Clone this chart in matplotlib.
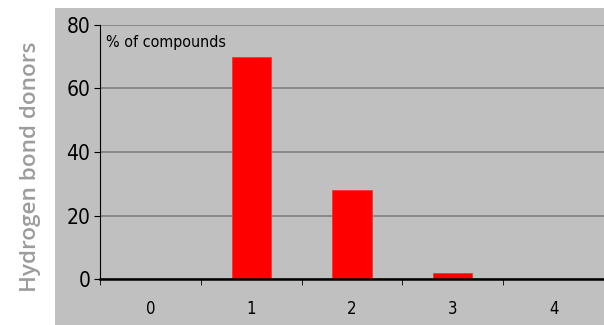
import matplotlib
matplotlib.use("Agg")
import matplotlib.pyplot as plt
from matplotlib.patches import Rectangle

# share of compounds by number of hydrogen bond donors
donors = ["0", "1", "2", "3", "4"]
pct = [0, 70, 28, 2, 0]
yticks = [0, 20, 40, 60, 80]

BG = "#c0c0c0"
FONT = dict(family="DejaVu Sans", stretch="condensed")

fig = plt.figure(figsize=(6.04, 3.25), dpi=100)
fig.patch.set_facecolor("white")
fig.patches.append(Rectangle((55 / 604, 0), 1, 1 - 8 / 325, transform=fig.transFigure,
                             facecolor=BG, edgecolor="none", zorder=-5))

ax = fig.add_axes([100 / 604, 46 / 325, 1 - 100 / 604, 254 / 325])
ax.set_zorder(2)
ax.set_facecolor(BG)
x = list(range(len(donors)))
ax.bar(x, pct, width=0.39, color="#ff0000", edgecolor="#ff3030", linewidth=0.6, zorder=3)

ax.set_xlim(-0.5, -0.5 + 504 / 102.5)
ax.set_ylim(0, 80)
ax.set_yticks(yticks)
ax.set_yticklabels([str(v) for v in yticks], fontsize=15, **FONT)
ax.set_xticks(x)
ax.set_xticklabels(donors, fontsize=12, **FONT)
ax.set_xticks([i - 0.5 for i in range(len(donors) + 1)], minor=True)
ax.tick_params(axis="x", which="major", length=0, pad=15)
ax.tick_params(axis="x", which="minor", length=4, direction="out", color="black")
ax.tick_params(axis="y", length=4, direction="out", pad=3)
ax.grid(axis="y", color="#808080", linewidth=1.2, zorder=1)
ax.set_axisbelow(True)

for side in ("top", "right"):
    ax.spines[side].set_visible(False)
ax.spines["left"].set_linewidth(0.8)
ax.spines["bottom"].set_linewidth(1.8)
ax.spines["bottom"].set_zorder(4)

ax.text(0.012, 0.93, "% of compounds", transform=ax.transAxes,
        fontsize=11.5, va="center", ha="left", **FONT)
fig.text(31 / 604, 0.487, "Hydrogen bond donors", rotation=90, family=["Open Sans", "DejaVu Sans"],
         fontsize=16.2, fontweight="semibold", color="#9c9c9c", ha="center", va="center")

fig.savefig("out.png", dpi=100)
